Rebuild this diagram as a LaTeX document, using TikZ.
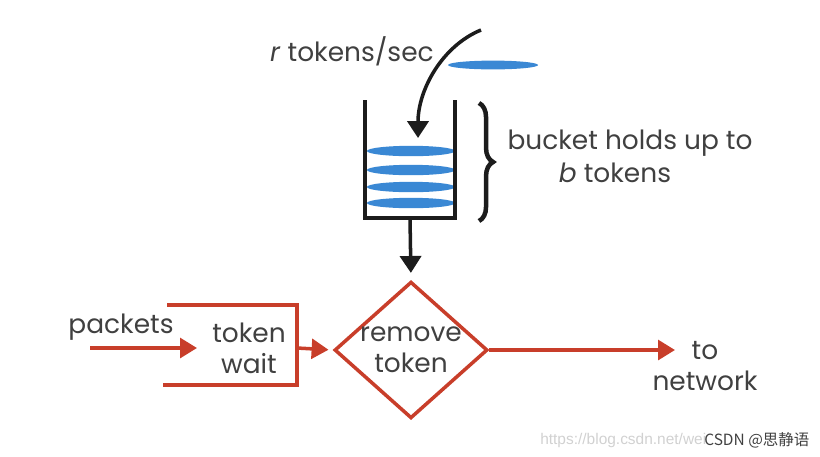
\documentclass[tikz,border=0pt]{standalone}
\usepackage{fontspec}
\setmainfont{Poppins}
\newfontfamily\cjkfont{Noto Sans CJK SC}
\newfontfamily\urlfont{Liberation Sans}
\usetikzlibrary{arrows.meta,positioning,shapes.geometric,decorations.pathreplacing}
\definecolor{tb_red}{RGB}{200,62,42}
\definecolor{tb_blue}{RGB}{58,136,212}
\definecolor{tb_ink}{RGB}{28,28,28}
\definecolor{tb_text}{RGB}{64,64,64}

\begin{document}
\begin{tikzpicture}[
      x=0.025cm, y=-0.025cm,
      txt/.style={text=tb_text, font=\fontsize{18.8}{22}\selectfont,
                  align=center, inner sep=0pt},
      token/.style={ellipse, fill=tb_blue, minimum width=2.2cm,
                    minimum height=0.26cm, inner sep=0pt},
      gate/.style={diamond, draw=tb_red, line width=2.5pt, aspect=1.12,
                   minimum width=3.7cm, minimum height=3.3cm, inner sep=0pt},
      wall/.style={tb_ink, line width=2.5pt},
      redline/.style={tb_red, line width=2.5pt},
      blkarr/.style={-{Triangle[length=12pt, width=15pt]}, tb_ink, line width=2.5pt},
      redarr/.style={-{Triangle[length=12pt, width=14pt]}, tb_red, line width=2.5pt},
    ]
    \useasboundingbox (0,0) rectangle (820,456);

    % bucket with its tokens
    \foreach \y in {151,170,187,203}
      \node[token] (tok\y) at (411,\y) {};
    \draw[wall] (365,100) -- (365,218) -- (455,218) -- (455,100);
    \node[token, minimum width=2.25cm, minimum height=0.22cm] (drop) at (493,65) {};

    % token feed
    \node[txt, anchor=east] (rate) at (434,51) {\textit{r} tokens/sec};
    \coordinate (feed) at (481,30);
    \coordinate (fall) at (418,138);
    \draw[blkarr] (feed) .. controls (442,46) and (418,90) .. (fall);

    % capacity
    \draw[wall, line width=3.2pt, decorate, decoration={brace, amplitude=10pt}]
      (479,103) -- (479,221);
    \node[txt] (holds)  at (630,143) {bucket holds up to};
    \node[txt] (holdsb) at (615,173) {\textit{b} tokens};

    % packet path
    \node[txt] (packets) at (121,327) {packets};
    \node[txt] (wait) at (249,348) {token\\wait};
    \draw[redline] (167,305) -- (297,305) -- (297,385) -- (163,385);
    \node[gate, txt] (remove) at (411,350) {remove\\token};
    \node[txt] (net) at (705,366) {to\\network};

    \coordinate (inflow) at (90,348);
    \coordinate (inhead) at (197,348);
    \coordinate (waitout) at (297,348);
    \coordinate (bktout) at (410,218);
    \coordinate (outhead) at (675,350);
    \draw[redarr] (inflow) -- (inhead);
    \draw[redarr, shorten >=3pt] (waitout) -- (remove.west);
    \draw[redarr] (remove.east) -- (outhead);
    \draw[blkarr, shorten >=5pt] (bktout) -- (remove.north);

    % watermark
    \node[font=\urlfont\fontsize{11}{13}\selectfont, text=black!18, anchor=west,
          inner sep=0pt] (url) at (540,440) {https://blog.csdn.net/wei};
    \node[font=\cjkfont\fontsize{11}{13}\selectfont, text=tb_text, anchor=west,
          inner sep=0pt] (csdn) at (704,440) {CSDN @思静语};
  \end{tikzpicture}
\end{document}
